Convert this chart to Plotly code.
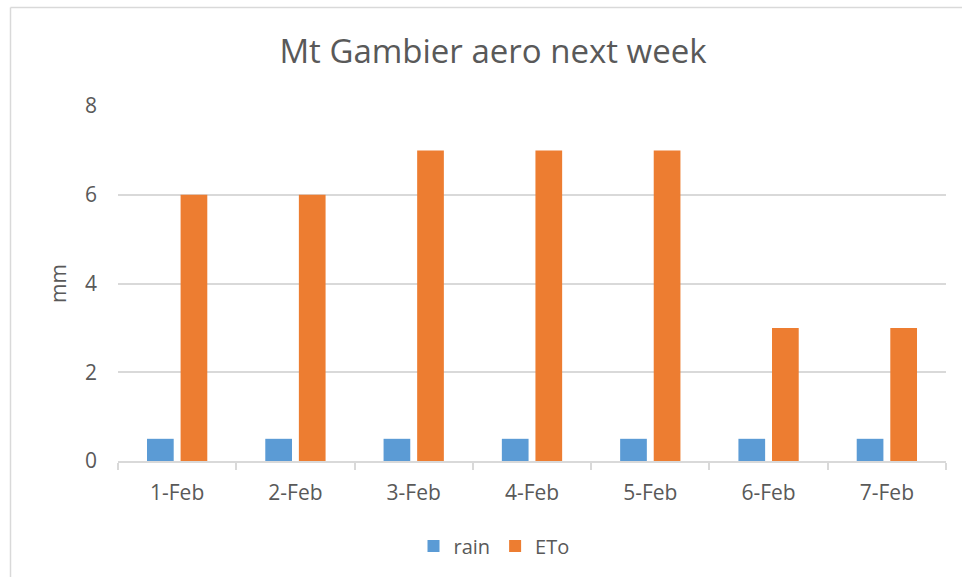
import plotly.graph_objects as go

categories = ["1-Feb", "2-Feb", "3-Feb", "4-Feb", "5-Feb", "6-Feb", "7-Feb"]
rain = [0.5, 0.5, 0.5, 0.5, 0.5, 0.5, 0.5]
eto = [6, 6, 7, 7, 7, 3, 3]
y_ticks = [0, 2, 4, 6, 8]

FONT = "Open Sans"
TXT = "#595959"
GRID = "#d9d9d9"

fig = go.Figure()
fig.add_trace(go.Bar(x=categories, y=rain, name="rain", marker=dict(color="#5B9BD5", line=dict(width=0))))
fig.add_trace(go.Bar(x=categories, y=eto, name="ETo", marker=dict(color="#ED7D31", line=dict(width=0))))

W, H = 962, 577
L, R, T, B = 118, 16, 106, 116
pw, ph = W - L - R, H - T - B

def px_x(p):
    return (p - L) / pw

def px_y(p):
    return (H - B - p) / ph

fig.update_layout(
    width=W, height=H,
    margin=dict(l=L, r=R, t=T, b=B),
    paper_bgcolor="white", plot_bgcolor="white",
    font=dict(family=FONT, color=TXT, size=21),
    barmode="group", bargap=0.432, bargroupgap=0.205,
    title=dict(text="Mt Gambier aero next week", font=dict(size=33, color=TXT, family=FONT),
               xref="container", x=493 / W, xanchor="center",
               yref="container", y=1 - 51 / H, yanchor="middle"),
    showlegend=True,
    legend=dict(orientation="h", xanchor="center", x=px_x(494), yanchor="middle", y=px_y(546),
                font=dict(size=20, color=TXT), itemwidth=30, traceorder="normal"),
    xaxis=dict(type="category", showline=True, linecolor=GRID, linewidth=1.5,
               ticks="outside", tickson="boundaries", ticklen=7, tickcolor=GRID, tickwidth=1.5,
               tickfont=dict(size=21, color=TXT), ticklabelstandoff=12, showgrid=False),
    yaxis=dict(range=[0, 8], tickvals=y_ticks, showgrid=True, gridcolor=GRID, gridwidth=1.5,
               zeroline=False, showline=False, ticks="", tickfont=dict(size=21, color=TXT),
               ticklabelstandoff=20,
               title=dict(text="mm", font=dict(size=21, color=TXT), standoff=12)),
    shapes=[
        dict(type="line", xref="paper", yref="paper", x0=px_x(10.5), x1=px_x(10.5),
             y0=px_y(7.5), y1=px_y(600), line=dict(color=GRID, width=1.5)),
        dict(type="line", xref="paper", yref="paper", x0=px_x(10.5), x1=px_x(1000),
             y0=px_y(7.5), y1=px_y(7.5), line=dict(color=GRID, width=1.5)),
    ],
)

fig.write_html("out.html", config={"displayModeBar": False},
               post_script="document.body.style.margin='0px';document.body.style.overflow='hidden';")
